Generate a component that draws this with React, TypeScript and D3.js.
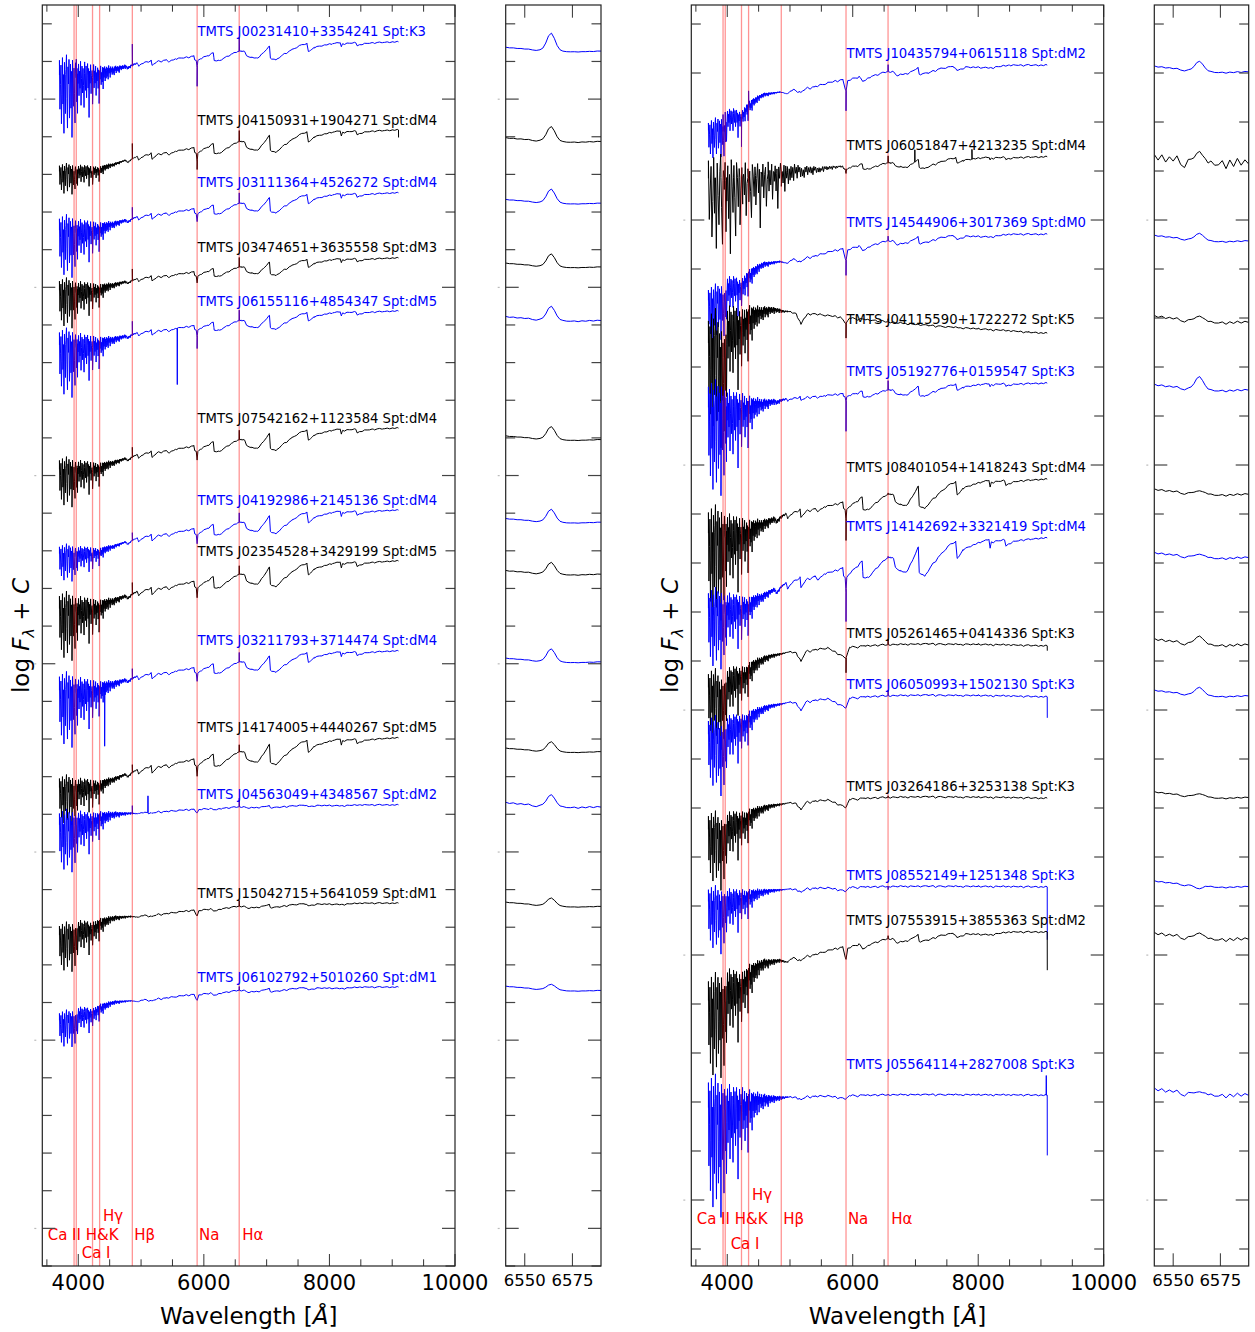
import React from 'react';
import * as d3 from 'd3';

const W = 1255;
const H = 1332;
const FONT = "'DejaVu Sans', Verdana, sans-serif";
const Y_TOP = 5;
const Y_BOT = 1266;

// ---------- axes ----------
const mainDomain = [3427, 10000];
const smallDomain = [6540, 6590];
const mainMajorTicks = [4000, 6000, 8000, 10000];
const mainMinorTicks = [3500, 4500, 5000, 5500, 6500, 7000, 7500, 8500, 9000, 9500];
const smallTicks = [6550, 6575];

// ---------- spectral line markers ----------
const markerWaves = [3933, 3968, 4227, 4340, 4861, 5893, 6563];
const markerLabels = ['Ca II H&K', 'Ca I', 'Hγ', 'Hβ', 'Na', 'Hα'];
const markerLabelWaves = [3513, 4054, 4394, 4892, 5923, 6613];
const markerLabelShift = [0, -0.5, 0.5, 0, 0, 0];

// ---------- templates (log flux, tick units, relative to red end) ----------
const dmWave = [3700, 3800, 3900, 3933, 3950, 3968, 3990, 4100, 4200, 4227, 4250, 4330, 4340, 4360, 4450, 4550, 4650, 4750, 4790, 4861, 4940, 4960, 5050, 5160, 5175, 5250, 5400, 5450, 5550, 5700, 5840, 5855, 5880, 5893, 5905, 5950, 6050, 6150, 6165, 6250, 6350, 6450, 6540, 6600, 6650, 6680, 6760, 6850, 6950, 7045, 7060, 7150, 7250, 7400, 7550, 7640, 7665, 7700, 7760, 7900, 8050, 8170, 8190, 8210, 8420, 8440, 8550, 8700, 8850, 9000, 9100];
const dmFlux = [-1.10, -1.08, -1.06, -1.20, -1.05, -1.20, -1.06, -1.04, -1.05, -1.18, -1.04, -1.06, -1.12, -1.02, -0.96, -0.92, -0.86, -0.80, -0.86, -0.76, -0.70, -0.80, -0.68, -0.62, -0.78, -0.66, -0.60, -0.66, -0.56, -0.52, -0.47, -0.60, -0.62, -0.85, -0.62, -0.56, -0.46, -0.36, -0.62, -0.62, -0.50, -0.40, -0.32, -0.30, -0.32, -0.46, -0.52, -0.54, -0.36, -0.14, -0.54, -0.60, -0.44, -0.26, -0.10, -0.06, -0.32, -0.28, -0.18, -0.12, -0.06, -0.02, -0.16, -0.06, -0.03, -0.12, -0.06, -0.03, -0.02, 0.0, 0.0];

const dmeWave = [3700, 3900, 3933, 3968, 4000, 4100, 4227, 4300, 4400, 4570, 4700, 4840, 4960, 5050, 5170, 5250, 5400, 5600, 5840, 5893, 5920, 6100, 6160, 6300, 6545, 6650, 6700, 6900, 7040, 7060, 7200, 7400, 7600, 7660, 7800, 8190, 8500, 9100];
const dmeFlux = [-1.0, -0.92, -1.02, -1.02, -0.78, -0.74, -0.80, -0.66, -0.56, -0.45, -0.43, -0.41, -0.44, -0.37, -0.42, -0.36, -0.33, -0.27, -0.22, -0.40, -0.24, -0.17, -0.25, -0.17, -0.10, -0.10, -0.16, -0.12, -0.04, -0.14, -0.12, -0.05, -0.02, -0.08, -0.03, -0.04, 0.0, 0.0];

const kWave = [3700, 3800, 3933, 3968, 4000, 4100, 4227, 4300, 4400, 4500, 4600, 4700, 4861, 5000, 5100, 5175, 5250, 5400, 5600, 5893, 5950, 6200, 6500, 6800, 7200, 7600, 8000, 8500, 8700, 9100];
const kFlux = [-0.85, -0.80, -1.00, -1.00, -0.70, -0.60, -0.62, -0.55, -0.40, -0.32, -0.25, -0.20, -0.16, -0.12, -0.14, -0.32, -0.12, -0.08, -0.04, -0.25, -0.03, 0.0, 0.02, 0.03, 0.04, 0.03, 0.03, 0.02, 0.01, 0.0];

const k5Wave = [3700, 3800, 3933, 3968, 4000, 4100, 4227, 4300, 4400, 4500, 4600, 4700, 4800, 4900, 5000, 5100, 5175, 5220, 5300, 5500, 5800, 5893, 5950, 6200, 6500, 6800, 7200, 7600, 8000, 8500, 8800, 9100];
const k5Flux = [-0.20, -0.05, -0.50, -0.50, 0.15, 0.25, 0.15, 0.30, 0.38, 0.42, 0.46, 0.49, 0.48, 0.45, 0.44, 0.40, 0.18, 0.30, 0.40, 0.38, 0.33, 0.20, 0.31, 0.28, 0.24, 0.20, 0.16, 0.12, 0.09, 0.05, 0.02, 0.0];

// blue-end noise (read from the scribbles), one value per noise step from 3700 Å
const blueNoise = [
  0.3, -0.7, -0.2, 0.2, -1.0, -0.4, 0.35, -0.6, 0.0, -1.2, 0.25, -0.3, -0.8, 0.1, 0.4, -0.5, -1.1, 0.15, -0.2, 0.3,
  -0.9, -0.4, 0.2, -0.7, 0.05, -1.3, 0.3, -0.15, -0.6, 0.2, -0.35, -1.0, 0.25, 0.0, -0.5, 0.15, -0.8, -0.2,
  0.2, -0.45, 0.05, -0.3, 0.25, -0.65, -0.1, 0.15, -0.4, 0.1, -0.25, -0.7, 0.2, 0.0, -0.35, 0.15, -0.5, -0.05, 0.2, -0.3,
  0.1, -0.9, 0.05, -0.2, 0.18, -0.4, 0.0, 0.12, -0.55, -0.1, 0.2, -0.3, 0.05, -0.2, 0.15, -0.45, 0.02, -0.15, 0.12, -0.3,
  0.08, -0.6, 0.1, -0.1, 0.15, -0.25, 0.0, -0.2, 0.1, -0.35, 0.08, -0.12, 0.1, -0.2, 0.05, -0.15,
  0.08, -0.12, 0.05, -0.18, 0.1, -0.06, 0.04, -0.15, 0.07, -0.05, 0.03, -0.1, 0.06, -0.08, 0.02, -0.12, 0.05, -0.04, 0.06, -0.09,
  0.03, -0.05, 0.04, -0.07, 0.02, -0.1, 0.04, -0.03, 0.03, -0.06, 0.02, -0.04, 0.03, -0.05, 0.01, -0.03, 0.03, -0.06, 0.02, -0.02,
  0.02, -0.04, 0.01, -0.03, 0.02, -0.02, 0.01, -0.04, 0.02, -0.01, 0.01, -0.03, 0.01, -0.02, 0.01, -0.01, 0.01, -0.02, 0.0, -0.01,
  0.01, -0.01, 0.0, 0.01, -0.01, 0.0];
// red-part fine structure, every 40 Å from 5000 Å
const redJitter = [0.01, -0.015, 0.005, -0.025, 0.015, 0.0, -0.01, 0.02, -0.03, 0.005, 0.01, -0.015, 0.015, -0.005, -0.02, 0.01, 0.0, -0.01, 0.015, -0.025,
  0.005, 0.01, -0.015, 0.005, -0.01, 0.015, -0.005, -0.03, 0.01, 0.005, -0.01, 0.01, -0.015, 0.0, 0.01, -0.02, 0.005, 0.015, -0.01, 0.005,
  -0.015, 0.01, 0.0, -0.01, 0.015, -0.005, 0.005, -0.02, 0.01, 0.0, -0.005, 0.01, -0.015, 0.005, 0.01, -0.01, 0.0, 0.015, -0.025, 0.005,
  0.01, -0.005, -0.015, 0.01, 0.005, -0.01, 0.015, -0.005, 0.0, -0.02, 0.01, 0.005, -0.01, 0.01, -0.005, 0.015, -0.015, 0.0, 0.01, -0.01,
  0.005, -0.025, 0.01, 0.0, -0.005, 0.015, -0.01, 0.005, -0.015, 0.01, 0.0, -0.005, 0.01, -0.02, 0.005, 0.015, -0.01, 0.0, 0.01, -0.015,
  0.005, -0.01, 0.015];

// H-alpha zoom profile
const haWave = [6540, 6542, 6544, 6546, 6548, 6550, 6552, 6554, 6556, 6558, 6559.5, 6561, 6562.5, 6564, 6565.5, 6567, 6568.5, 6570, 6572, 6574, 6576, 6578, 6580, 6582, 6584, 6586, 6588, 6590];
const haShape = [0, 0, 0, 0, 0, 0, 0, 0, 0, 0.02, 0.12, 0.42, 0.85, 1.0, 0.7, 0.28, 0.07, 0, 0, 0, 0, 0, 0, 0, 0, 0, 0, 0];
const haCont = [0.11, 0.10, 0.09, 0.085, 0.075, 0.065, 0.055, 0.045, 0.035, 0.03, 0.03, 0.03, 0.03, 0.03, 0.03, 0.025, 0.01, 0.0, -0.01, -0.015, -0.02, -0.015, -0.02, -0.01, -0.015, -0.01, -0.005, 0.0];
const haNoise = [0.05, -0.03, 0.06, -0.05, 0.04, -0.02, 0.07, -0.06, -0.1, 0.03, 0.02, 0.0, 0.01, 0.02, 0.0, 0.01, -0.02, 0.03, -0.03, -0.02, 0.05, -0.08, 0.06, -0.05, 0.08, -0.03, 0.05, -0.02];

// ---------- left panel stars ----------
const leftNames = ['TMTS J00231410+3354241 Spt:K3', 'TMTS J04150931+1904271 Spt:dM4', 'TMTS J03111364+4526272 Spt:dM4', 'TMTS J03474651+3635558 Spt:dM3', 'TMTS J06155116+4854347 Spt:dM5', 'TMTS J07542162+1123584 Spt:dM4', 'TMTS J04192986+2145136 Spt:dM4', 'TMTS J02354528+3429199 Spt:dM5', 'TMTS J03211793+3714474 Spt:dM4', 'TMTS J14174005+4440267 Spt:dM5', 'TMTS J04563049+4348567 Spt:dM2', 'TMTS J15042715+5641059 Spt:dM1', 'TMTS J06102792+5010260 Spt:dM1'];
const leftTemplate = ['dM', 'dM', 'dM', 'dM', 'dM', 'dM', 'dM', 'dM', 'dM', 'dM', 'dMe', 'dMe', 'dMe'];
const leftLevel = [-0.48, -2.82, -4.49, -6.22, -7.63, -10.74, -12.92, -14.27, -16.66, -18.97, -20.75, -23.36, -25.59];
const leftAmp = [0.8, 1.0, 0.9, 0.78, 0.82, 1.0, 1.05, 1.15, 0.95, 1.2, 0.53, 0.85, 0.88];
const leftNoise = [1.3, 0.5, 1.0, 0.8, 1.1, 0.8, 0.6, 1.1, 1.2, 0.8, 1.0, 0.8, 0.6];
const leftNoiseStep = [8, 8, 8, 8, 8, 8, 8, 8, 8, 8, 8, 8, 8];
const leftHa = [0.45, 0.37, 0.35, 0.32, 0.35, 0.32, 0.32, 0.29, 0.32, 0.24, 0.29, 0.19, 0.13];
const leftHaNoise = [0.1, 0.15, 0.1, 0.1, 0.2, 0.1, 0.1, 0.15, 0.1, 0.1, 0.3, 0.1, 0.1];
const leftDrop = [0, 0.2, 0, 0, 0, 0, 0, 0, 0, 0, 0, 0, 0];
const leftSpikes = [
  [[4861, 0.55], [3968, 0.5], [4102, 0.3], [5893, -0.5]],
  [[4861, 0.4], [5893, -0.2]],
  [[4861, 0.3]],
  [[4861, 0.3]],
  [[4861, 0.35], [5577, -1.5], [5893, -0.3]],
  [[4861, 0.25]],
  [[4861, 0.2]],
  [[4861, 0.3]],
  [[4861, 0.25], [4420, -1.6]],
  [[4861, 0.2]],
  [[5110, 0.45], [4861, 0.2]],
  [],
  [],
];

// ---------- right panel stars ----------
const rightNames = ['TMTS J10435794+0615118 Spt:dM2', 'TMTS J06051847+4213235 Spt:dM4', 'TMTS J14544906+3017369 Spt:dM0', 'TMTS J04115590+1722272 Spt:K5', 'TMTS J05192776+0159547 Spt:K3', 'TMTS J08401054+1418243 Spt:dM4', 'TMTS J14142692+3321419 Spt:dM4', 'TMTS J05261465+0414336 Spt:K3', 'TMTS J06050993+1502130 Spt:K3', 'TMTS J03264186+3253138 Spt:K3', 'TMTS J08552149+1251348 Spt:K3', 'TMTS J07553915+3855363 Spt:dM2', 'TMTS J05564114+2827008 Spt:K3'];
const rightTemplate = ['dMe', 'dM', 'dMe', 'K5', 'dM', 'dM', 'dM', 'K', 'K', 'K', 'K', 'dMe', 'K'];
const rightLevel = [-0.84, -2.71, -4.29, -6.31, -7.33, -9.29, -10.49, -12.69, -13.73, -15.80, -17.61, -18.53, -21.86];
const rightAmp = [1.33, 0.4, 1.35, 1.0, 0.45, 1.0, 1.3, 1.0, 0.9, 0.75, 0.35, 1.4, 0.3];
const rightNoise = [0.5, 1.2, 0.7, 1.5, 1.4, 1.4, 1.0, 0.9, 0.9, 0.9, 0.8, 1.3, 1.7];
const rightNoiseStep = [8, 14, 8, 8, 8, 8, 8, 8, 8, 8, 8, 8, 8];
const rightHa = [0.18, 0.18, 0.12, 0.08, 0.24, 0.04, 0.04, 0.14, 0.14, 0.04, -0.08, 0.08, 0.02];
const rightHaNoise = [0.2, 1.3, 0.2, 0.4, 0.3, 0.3, 0.3, 0.4, 0.2, 0.2, 0.2, 0.5, 0.6];
const rightDrop = [0, 0, 0, 0, 0, 0, 0, 0.1, 0.43, 0, 1.08, 0.78, 1.23];
const rightSpikes = [
  [[3933, 0.35], [3968, 0.4], [4227, -0.6], [4340, 0.3], [5893, -0.4]],
  [[6990, 0.25], [7900, 0.2]],
  [[5893, -0.3]],
  [[5893, -0.3]],
  [[5893, -0.6]],
  [[5893, -0.4]],
  [[5893, -0.6]],
  [[5893, -0.3]],
  [],
  [],
  [],
  [],
  [[9085, 0.4]],
];

const templates = {
  dM: [dmWave, dmFlux],
  dMe: [dmeWave, dmeFlux],
  K: [kWave, kFlux],
  K5: [k5Wave, k5Flux],
};

function buildSpectrum(tmplKey, level, amp, noiseAmp, noiseStep, spikes, ha, drop) {
  const [tw, tf] = templates[tmplKey];
  const tmpl = d3.scaleLinear().domain(tw).range(tf).clamp(true);
  const base = (w) => level + amp * tmpl(w);
  const pts = [];
  tw.forEach((w) => pts.push([w, base(w)]));
  let noiseEnd = 3700;
  blueNoise.forEach((n, i) => {
    const w = 3700 + i * noiseStep;
    if (w < 9100) { pts.push([w, base(w) + noiseAmp * n]); noiseEnd = w; }
  });
  redJitter.forEach((j, i) => {
    const w = 5000 + 40 * i;
    if (w > noiseEnd + 20 && w < 9100) pts.push([w, base(w) + j]);
  });
  spikes.forEach(([sw, sa]) => {
    pts.push([sw - 3, base(sw - 3)], [sw, base(sw) + sa], [sw + 3, base(sw + 3)]);
  });
  pts.push([6559, base(6559)], [6564, base(6564) + 0.8 * ha], [6569, base(6569)]);
  pts.sort((a, b) => a[0] - b[0]);
  const redPts = pts.filter((p) => p[0] > 8500);
  const top = d3.max(redPts, (p) => p[1]);
  if (drop > 0) pts.push([9101, base(9100) - drop]);
  const haPts = haWave.map((w, i) => [w, base(w) + haCont[i] + ha * haShape[i]]);
  return { pts, top, haPts };
}

function Frame({ x0, x1, xs, major, minor, majorLen, minorLen, ys, yTicks, majorMod, majorOff, labelSize, labelBase, fmt }) {
  const els = [];
  const tickColor = '#333';
  major.forEach((t, i) => {
    const x = xs(t);
    els.push(<line key={'xb' + i} x1={x} x2={x} y1={Y_BOT} y2={Y_BOT - majorLen} stroke={tickColor} strokeWidth={1} />);
    els.push(<line key={'xt' + i} x1={x} x2={x} y1={Y_TOP} y2={Y_TOP + majorLen} stroke={tickColor} strokeWidth={1} />);
    els.push(<text key={'xl' + i} x={x} y={labelBase} textAnchor="middle" fontSize={labelSize} fontFamily={FONT} fill="#000">{fmt(t)}</text>);
  });
  minor.forEach((t, i) => {
    const x = xs(t);
    els.push(<line key={'mb' + i} x1={x} x2={x} y1={Y_BOT} y2={Y_BOT - minorLen} stroke={tickColor} strokeWidth={1} />);
    els.push(<line key={'mt' + i} x1={x} x2={x} y1={Y_TOP} y2={Y_TOP + minorLen} stroke={tickColor} strokeWidth={1} />);
  });
  yTicks.forEach((v, i) => {
    const y = ys(v);
    const isMajor = ((-v - majorOff) % majorMod + majorMod) % majorMod === 0;
    const len = isMajor ? 13 : 9.5;
    els.push(<line key={'yl' + i} x1={x0} x2={x0 + len} y1={y} y2={y} stroke="#444" strokeWidth={1.2} />);
    els.push(<line key={'yr' + i} x1={x1} x2={x1 - len} y1={y} y2={y} stroke="#444" strokeWidth={1.2} />);
    if (isMajor) els.push(<rect key={'ym' + i} x={x0 - 8} y={y - 0.5} width={2} height={1.2} fill="#bbb" />);
  });
  els.push(<rect key="frame" x={x0} y={Y_TOP} width={x1 - x0} height={Y_BOT - Y_TOP} fill="none" stroke="#222" strokeWidth={1.2} />);
  return <g>{els}</g>;
}

function Panel({ id, x0, x1, sx0, sx1, yDom, majorOff, names, tmpl, level, amp, noise, noiseStep, ha, haNz, drop, spikes, lineLabelBase, ylabelX }) {
  const xs = d3.scaleLinear().domain(mainDomain).range([x0, x1]);
  const sxs = d3.scaleLinear().domain(smallDomain).range([sx0, sx1]);
  const ys = d3.scaleLinear().domain(yDom).range([Y_TOP, Y_BOT]);
  const yTicks = d3.range(0, Math.ceil(yDom[1]) - 1, -1);
  const line = d3.line().x((d) => xs(d[0])).y((d) => ys(d[1]));
  const sline = d3.line().x((d) => sxs(d[0])).y((d) => ys(d[1]));
  const spectra = names.map((n, i) => {
    const s = buildSpectrum(tmpl[i], level[i], amp[i], noise[i], noiseStep[i], spikes[i], ha[i], drop[i]);
    s.haPts = s.haPts.map((p, j) => [p[0], p[1] + haNz[i] * haNoise[j]]);
    return s;
  });
  const colorOf = (i) => (i % 2 === 0 ? '#0000ff' : '#000000');
  return (
    <g>
      <defs>
        <clipPath id={id + 'm'}><rect x={x0} y={Y_TOP} width={x1 - x0} height={Y_BOT - Y_TOP} /></clipPath>
        <clipPath id={id + 's'}><rect x={sx0} y={Y_TOP} width={sx1 - sx0} height={Y_BOT - Y_TOP} /></clipPath>
      </defs>
      <g clipPath={`url(#${id}m)`}>
        {spectra.map((s, i) => (
          <path key={'sp' + i} d={line(s.pts)} fill="none" stroke={colorOf(i)} strokeWidth={1} strokeLinejoin="round" />
        ))}
        {markerWaves.map((w, i) => (
          <line key={'mk' + i} x1={xs(w)} x2={xs(w)} y1={Y_TOP} y2={Y_BOT} stroke="#ff0000" strokeOpacity={0.42} strokeWidth={1.3} />
        ))}
      </g>
      {spectra.map((s, i) => (
        <text key={'lb' + i} x={xs(5900)} y={ys(s.top + 0.13)} fontSize={13.2} fontFamily={FONT} fill={colorOf(i)}>{names[i]}</text>
      ))}
      {markerLabels.map((t, i) => (
        <text key={'ml' + i} x={xs(markerLabelWaves[i])} y={ys(lineLabelBase + markerLabelShift[i])} fontSize={15} fontFamily={FONT} fill="#ff0000">{t}</text>
      ))}
      <g clipPath={`url(#${id}s)`}>
        {spectra.map((s, i) => (
          <path key={'hs' + i} d={sline(s.haPts)} fill="none" stroke={colorOf(i)} strokeWidth={1} />
        ))}
      </g>
      <Frame x0={x0} x1={x1} xs={xs} major={mainMajorTicks} minor={mainMinorTicks} majorLen={12} minorLen={6.7} ys={ys} yTicks={yTicks} majorMod={5} majorOff={majorOff} labelSize={21} labelBase={1290} fmt={(t) => String(t)} />
      <Frame x0={sx0} x1={sx1} xs={sxs} major={smallTicks} minor={[]} majorLen={12.7} minorLen={0} ys={ys} yTicks={yTicks} majorMod={5} majorOff={majorOff} labelSize={16.5} labelBase={1286} fmt={(t) => String(t)} />
      <text x={(x0 + x1) / 2} y={1324} textAnchor="middle" fontSize={23} fontFamily={FONT} fill="#000">
        Wavelength [<tspan fontStyle="italic">Å</tspan>]
      </text>
      <text transform={`translate(${ylabelX},${(Y_TOP + Y_BOT) / 2}) rotate(-90)`} textAnchor="middle" fontSize={23} fontFamily={FONT} fill="#000">
        log <tspan fontStyle="italic">F</tspan><tspan fontSize={16} fontStyle="italic" dy={5}>λ</tspan><tspan dy={-5}> + </tspan><tspan fontStyle="italic">C</tspan>
      </text>
    </g>
  );
}

export default function App() {
  return (
    <svg width={W} height={H} style={{ position: 'absolute', left: 0, top: 0, background: '#fff' }} xmlns="http://www.w3.org/2000/svg">
      <rect x={0} y={0} width={W} height={H} fill="#fff" />
      <Panel id="L" x0={42.3} x1={455} sx0={505.7} sx1={601} yDom={[0.5, -33]} majorOff={2}
        names={leftNames} tmpl={leftTemplate} level={leftLevel} amp={leftAmp} noise={leftNoise} noiseStep={leftNoiseStep}
        ha={leftHa} haNz={leftHaNoise} drop={leftDrop} spikes={leftSpikes} lineLabelBase={-32.3} ylabelX={29} />
      <Panel id="R" x0={691.3} x1={1103.7} sx0={1154.3} sx1={1248.7} yDom={[0.388, -25.347]} majorOff={4}
        names={rightNames} tmpl={rightTemplate} level={rightLevel} amp={rightAmp} noise={rightNoise} noiseStep={rightNoiseStep}
        ha={rightHa} haNz={rightHaNoise} drop={rightDrop} spikes={rightSpikes} lineLabelBase={-24.5} ylabelX={678} />
    </svg>
  );
}
